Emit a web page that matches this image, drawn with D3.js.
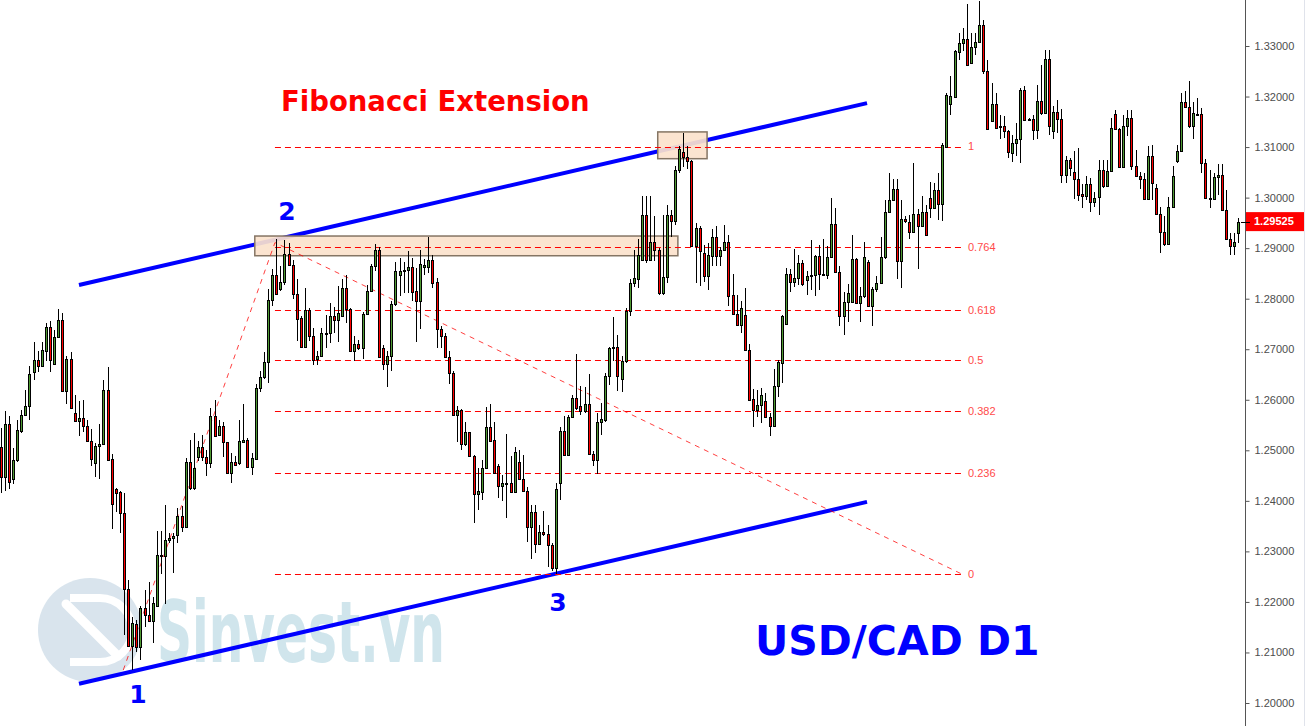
<!DOCTYPE html>
<html><head><meta charset="utf-8">
<script src="https://cdn.jsdelivr.net/npm/d3@7"></script>
<style>html,body{margin:0;padding:0;background:#fff;overflow:hidden}</style>
</head><body><svg id="chart" width="1306" height="726"></svg>
<script>
// ---- DATA (USD/CAD D1) ----
const open = [
1.2507,1.2447,1.2552,1.2443,1.2481,1.2539,1.2570,1.2587,1.2654,1.2679,
1.2666,1.2697,1.2744,1.2671,1.2724,1.2757,1.2618,1.2681,1.2574,1.2558,
1.2564,1.2549,1.2519,1.2475,1.2509,1.2513,1.2620,1.2483,1.2424,1.2418,
1.2376,1.2225,1.2113,1.2156,1.2110,1.2188,1.2174,1.2163,1.2192,1.2290,
1.2290,1.2323,1.2326,1.2333,1.2370,1.2348,1.2477,1.2425,1.2487,1.2506,
1.2487,1.2475,1.2567,1.2531,1.2548,1.2516,1.2455,1.2477,1.2475,1.2517,
1.2521,1.2467,1.2483,1.2623,1.2646,1.2674,1.2797,1.2847,1.2819,1.2833,
1.2889,1.2867,1.2810,1.2762,1.2704,1.2778,1.2727,1.2680,1.2687,1.2731,
1.2732,1.2765,1.2757,1.2765,1.2821,1.2780,1.2696,1.2710,1.2703,1.2770,
1.2816,1.2864,1.2897,1.2702,1.2671,1.2686,1.2789,1.2846,1.2855,1.2856,
1.2863,1.2816,1.2795,1.2863,1.2863,1.2877,1.2833,1.2740,1.2727,1.2684,
1.2653,1.2569,1.2579,1.2512,1.2536,1.2488,1.2413,1.2418,1.2465,1.2546,
1.2521,1.2469,1.2429,1.2435,1.2435,1.2417,1.2477,1.2443,1.2420,1.2348,
1.2378,1.2315,1.2338,1.2334,1.2313,1.2267,1.2435,1.2539,1.2491,1.2566,
1.2603,1.2588,1.2578,1.2592,1.2493,1.2481,1.2556,1.2559,1.2647,1.2702,
1.2705,1.2641,1.2676,1.2776,1.2831,1.2839,1.2877,1.2965,1.2877,1.2912,
1.2896,1.2811,1.2843,1.2965,1.2953,1.3055,1.3090,1.3080,1.3073,1.2904,
1.2940,1.2890,1.2844,1.2885,1.2922,1.2884,1.2897,1.2912,1.2808,1.2770,
1.2747,1.2768,1.2699,1.2601,1.2580,1.2589,1.2598,1.2566,1.2549,1.2627,
1.2673,1.2750,1.2849,1.2834,1.2841,1.2871,1.2836,1.2844,1.2846,1.2885,
1.2849,1.2846,1.2882,1.2948,1.2852,1.2766,1.2793,1.2793,1.2879,1.2791,
1.2805,1.2872,1.2785,1.2819,1.2831,1.2882,1.2972,1.2996,1.3017,1.2874,
1.2958,1.2951,1.2932,1.2968,1.2943,1.2972,1.2999,1.2979,1.3016,1.2988,
1.3101,1.3186,1.3200,1.3288,1.3306,1.3314,1.3267,1.3298,1.3308,1.3342,
1.3250,1.3151,1.3185,1.3141,1.3141,1.3131,1.3088,1.3108,1.3115,1.3212,
1.3156,1.3156,1.3133,1.3192,1.3168,1.3275,1.3131,1.3170,1.3155,1.3045,
1.3074,1.3050,1.3037,1.3008,1.3003,1.3026,1.2991,1.3002,1.3055,1.3022,
1.3053,1.3166,1.3135,1.3061,1.3141,1.3158,1.3062,1.3043,1.3036,1.2997,
1.3082,1.3019,1.2968,1.2932,1.2909,1.2981,1.3072,1.3092,1.3189,1.3179,
1.3141,1.3166,1.3165,1.3069,1.2999,1.2998,1.3040,1.3045,1.2976,1.2918,
1.2904,1.2929];
const high = [
1.2544,1.2578,1.2568,1.2505,1.2560,1.2579,1.2620,1.2666,1.2715,1.2696,
1.2715,1.2752,1.2755,1.2739,1.2780,1.2772,1.2686,1.2694,1.2610,1.2597,
1.2600,1.2560,1.2542,1.2514,1.2552,1.2640,1.2665,1.2493,1.2425,1.2420,
1.2416,1.2244,1.2171,1.2164,1.2191,1.2224,1.2240,1.2210,1.2341,1.2341,
1.2392,1.2336,1.2336,1.2386,1.2389,1.2485,1.2521,1.2534,1.2519,1.2531,
1.2501,1.2584,1.2600,1.2560,1.2557,1.2517,1.2494,1.2488,1.2560,1.2592,
1.2524,1.2494,1.2632,1.2656,1.2694,1.2819,1.2859,1.2918,1.2864,1.2917,
1.2911,1.2877,1.2838,1.2765,1.2821,1.2781,1.2742,1.2696,1.2742,1.2768,
1.2791,1.2784,1.2826,1.2838,1.2847,1.2781,1.2727,1.2719,1.2773,1.2828,
1.2869,1.2909,1.2903,1.2709,1.2696,1.2795,1.2872,1.2881,1.2872,1.2894,
1.2881,1.2861,1.2896,1.2878,1.2923,1.2887,1.2841,1.2745,1.2732,1.2696,
1.2656,1.2587,1.2582,1.2557,1.2536,1.2491,1.2465,1.2481,1.2585,1.2592,
1.2557,1.2473,1.2451,1.2532,1.2489,1.2507,1.2501,1.2491,1.2428,1.2392,
1.2392,1.2352,1.2379,1.2352,1.2316,1.2435,1.2546,1.2568,1.2570,1.2610,
1.2691,1.2628,1.2626,1.2651,1.2498,1.2574,1.2593,1.2653,1.2705,1.2764,
1.2729,1.2686,1.2781,1.2838,1.2897,1.2918,1.3004,1.3004,1.3004,1.2963,
1.2900,1.2966,1.2986,1.2976,1.3062,1.3102,1.3127,1.3103,1.3075,1.2950,
1.2943,1.2907,1.2910,1.2937,1.2943,1.2902,1.2946,1.2927,1.2849,1.2808,
1.2795,1.2821,1.2711,1.2621,1.2620,1.2623,1.2613,1.2574,1.2661,1.2679,
1.2768,1.2861,1.2859,1.2898,1.2887,1.2877,1.2854,1.2917,1.2887,1.2907,
1.2918,1.2905,1.2999,1.2979,1.2864,1.2813,1.2829,1.2927,1.2881,1.2824,
1.2913,1.2877,1.2823,1.2845,1.2923,1.2996,1.3049,1.3036,1.3036,1.2996,
1.2963,1.2966,1.3069,1.2978,1.3004,1.2986,1.3030,1.3029,1.3049,1.3108,
1.3207,1.3240,1.3293,1.3326,1.3336,1.3384,1.3326,1.3326,1.3389,1.3352,
1.3272,1.3227,1.3207,1.3164,1.3162,1.3134,1.3124,1.3148,1.3217,1.3220,
1.3157,1.3164,1.3222,1.3263,1.3293,1.3293,1.3182,1.3194,1.3175,1.3082,
1.3078,1.3092,1.3098,1.3026,1.3042,1.3039,1.3012,1.3075,1.3075,1.3075,
1.3158,1.3174,1.3138,1.3164,1.3174,1.3174,1.3095,1.3050,1.3049,1.3102,
1.3105,1.3026,1.2981,1.2963,1.3002,1.3062,1.3105,1.3207,1.3210,1.3230,
1.3190,1.3197,1.3177,1.3076,1.3055,1.3049,1.3067,1.3067,1.3016,1.2930,
1.2930,1.2960];
const low = [
1.2416,1.2420,1.2423,1.2434,1.2477,1.2535,1.2568,1.2560,1.2640,1.2654,
1.2665,1.2676,1.2654,1.2669,1.2722,1.2616,1.2592,1.2582,1.2557,1.2529,
1.2537,1.2517,1.2468,1.2447,1.2444,1.2511,1.2480,1.2344,1.2377,1.2337,
1.2135,1.2110,1.2065,1.2100,1.2085,1.2151,1.2161,1.2119,1.2191,1.2255,
1.2196,1.2316,1.2257,1.2316,1.2339,1.2346,1.2422,1.2422,1.2478,1.2478,
1.2449,1.2465,1.2527,1.2529,1.2487,1.2453,1.2435,1.2469,1.2471,1.2515,
1.2465,1.2451,1.2481,1.2616,1.2641,1.2634,1.2786,1.2808,1.2816,1.2828,
1.2864,1.2800,1.2717,1.2702,1.2702,1.2717,1.2669,1.2669,1.2684,1.2702,
1.2712,1.2732,1.2715,1.2764,1.2752,1.2694,1.2676,1.2699,1.2681,1.2768,
1.2814,1.2854,1.2682,1.2658,1.2626,1.2656,1.2786,1.2806,1.2812,1.2811,
1.2795,1.2715,1.2740,1.2847,1.2851,1.2821,1.2702,1.2702,1.2682,1.2632,
1.2568,1.2517,1.2501,1.2509,1.2487,1.2357,1.2381,1.2401,1.2463,1.2517,
1.2453,1.2405,1.2399,1.2366,1.2415,1.2415,1.2442,1.2418,1.2319,1.2285,
1.2296,1.2313,1.2331,1.2270,1.2262,1.2256,1.2402,1.2488,1.2489,1.2564,
1.2580,1.2570,1.2574,1.2491,1.2468,1.2453,1.2531,1.2557,1.2630,1.2676,
1.2618,1.2616,1.2673,1.2765,1.2823,1.2821,1.2874,1.2871,1.2874,1.2874,
1.2808,1.2808,1.2832,1.2923,1.2946,1.3049,1.3061,1.3057,1.2902,1.2832,
1.2826,1.2834,1.2817,1.2865,1.2865,1.2864,1.2896,1.2785,1.2768,1.2745,
1.2733,1.2696,1.2599,1.2547,1.2566,1.2555,1.2564,1.2529,1.2547,1.2606,
1.2633,1.2748,1.2814,1.2824,1.2828,1.2826,1.2808,1.2817,1.2806,1.2817,
1.2844,1.2838,1.2880,1.2851,1.2745,1.2729,1.2753,1.2791,1.2790,1.2753,
1.2802,1.2784,1.2745,1.2814,1.2830,1.2878,1.2970,1.2995,1.2838,1.2821,
1.2950,1.2918,1.2930,1.2859,1.2942,1.2925,1.2960,1.2977,1.2955,1.2953,
1.3100,1.3164,1.3199,1.3272,1.3290,1.3262,1.3265,1.3283,1.3306,1.3245,
1.3133,1.3149,1.3136,1.3115,1.3118,1.3078,1.3070,1.3082,1.3068,1.3153,
1.3152,1.3114,1.3115,1.3164,1.3166,1.3124,1.3115,1.3128,1.3029,1.3029,
1.3042,1.2997,1.2993,1.2979,1.2996,1.2971,1.2982,1.2966,1.3019,1.3021,
1.3052,1.3133,1.3059,1.3059,1.3122,1.3054,1.3041,1.3017,1.2996,1.2995,
1.2996,1.2966,1.2890,1.2905,1.2907,1.2979,1.3068,1.3090,1.3177,1.3137,
1.3115,1.3163,1.3049,1.2997,1.2979,1.2996,1.3006,1.2973,1.2917,1.2887,
1.2887,1.2911];
const close = [
1.2447,1.2552,1.2437,1.2481,1.2541,1.2570,1.2588,1.2651,1.2679,1.2666,
1.2698,1.2744,1.2679,1.2724,1.2757,1.2618,1.2681,1.2584,1.2558,1.2564,
1.2549,1.2519,1.2483,1.2509,1.2513,1.2620,1.2481,1.2393,1.2416,1.2376,
1.2225,1.2113,1.2158,1.2110,1.2188,1.2174,1.2163,1.2197,1.2292,1.2292,
1.2323,1.2327,1.2331,1.2370,1.2348,1.2477,1.2425,1.2465,1.2506,1.2487,
1.2475,1.2567,1.2529,1.2548,1.2516,1.2455,1.2477,1.2470,1.2519,1.2521,
1.2467,1.2485,1.2623,1.2646,1.2675,1.2798,1.2847,1.2809,1.2833,1.2889,
1.2866,1.2810,1.2760,1.2704,1.2778,1.2727,1.2679,1.2687,1.2732,1.2733,
1.2765,1.2757,1.2772,1.2821,1.2780,1.2696,1.2710,1.2703,1.2770,1.2816,
1.2864,1.2897,1.2684,1.2671,1.2687,1.2789,1.2855,1.2855,1.2857,1.2863,
1.2814,1.2795,1.2869,1.2867,1.2877,1.2832,1.2740,1.2727,1.2684,1.2653,
1.2569,1.2579,1.2512,1.2536,1.2488,1.2413,1.2420,1.2465,1.2546,1.2519,
1.2456,1.2430,1.2435,1.2435,1.2417,1.2496,1.2443,1.2420,1.2348,1.2378,
1.2315,1.2338,1.2334,1.2313,1.2267,1.2423,1.2539,1.2491,1.2566,1.2603,
1.2584,1.2578,1.2592,1.2493,1.2481,1.2556,1.2562,1.2647,1.2702,1.2705,
1.2647,1.2677,1.2776,1.2831,1.2840,1.2887,1.2965,1.2877,1.2912,1.2896,
1.2811,1.2843,1.2965,1.2953,1.3055,1.3096,1.3080,1.3072,1.2904,1.2940,
1.2894,1.2844,1.2887,1.2922,1.2884,1.2897,1.2912,1.2806,1.2770,1.2747,
1.2782,1.2698,1.2600,1.2580,1.2590,1.2610,1.2566,1.2549,1.2628,1.2674,
1.2766,1.2849,1.2834,1.2841,1.2871,1.2829,1.2845,1.2847,1.2885,1.2849,
1.2849,1.2882,1.2948,1.2852,1.2766,1.2793,1.2812,1.2879,1.2791,1.2806,
1.2882,1.2785,1.2820,1.2831,1.2882,1.2972,1.2996,1.3017,1.2874,1.2958,
1.2953,1.2932,1.2968,1.2943,1.2972,1.2927,1.2979,1.3016,1.2988,1.3105,
1.3204,1.3202,1.3290,1.3306,1.3314,1.3263,1.3298,1.3308,1.3342,1.3250,
1.3135,1.3185,1.3138,1.3140,1.3131,1.3090,1.3108,1.3115,1.3212,1.3154,
1.3153,1.3133,1.3192,1.3168,1.3275,1.3142,1.3170,1.3155,1.3045,1.3074,
1.3059,1.3036,1.3006,1.3003,1.3026,1.2991,1.3000,1.3055,1.3022,1.3053,
1.3138,1.3135,1.3061,1.3142,1.3158,1.3062,1.3042,1.3036,1.2997,1.3082,
1.3028,1.2968,1.2932,1.2909,1.2981,1.3043,1.3092,1.3189,1.3179,1.3141,
1.3167,1.3165,1.3069,1.2999,1.3000,1.3041,1.3045,1.2975,1.2918,1.2904,
1.2913,1.29525];

const yTicks = [1.20,1.21,1.22,1.23,1.24,1.25,1.26,1.27,1.28,1.29,1.30,1.31,1.32,1.33];
const lastPrice = 1.29525;
const fibRatios = [0, 0.236, 0.382, 0.5, 0.618, 0.764, 1];
const fibLabels = ["0", "0.236", "0.382", "0.5", "0.618", "0.764", "1"];
// trend-based extension anchor points: bar index, price
const fibPoints = [{i: 29.8, p: 1.2065}, {i: 66.7, p: 1.2911}, {i: 233.8, p: 1.2255}];
const channelUpper = [{i: 19.04, p: 1.2827}, {i: 210.7, p: 1.3187}];
const channelLower = [{i: 19.04, p: 1.2038}, {i: 210.7, p: 1.2398}];
const zones = [{i0: 61.8, i1: 164.7, p0: 1.2924, p1: 1.2885},
               {i0: 159.8, i1: 171.8, p0: 1.3130, p1: 1.3077}];

// ---- CHART ----
const svg = d3.select("#chart");
const x = d3.scaleLinear().domain([0, open.length - 1]).range([0.7, 1238.3]);
const y = d3.scaleLinear().domain([1.20, 1.33]).range([703, 46]);

// watermark
const wm = svg.append("g").attr("opacity", 0.9);
wm.append("circle").attr("cx", 90).attr("cy", 630).attr("r", 52).attr("fill", "#d5e2ec");
wm.append("path").attr("d", "M66,604 L118,656").attr("stroke", "#fff").attr("stroke-width", 9).attr("stroke-linecap","round");
wm.append("path").attr("d", "M70,598 L100,598 A32,32 0 0 1 100,662 L70,662").attr("fill", "none").attr("stroke", "#fff").attr("stroke-width", 8);
wm.append("text").attr("x", 157).attr("y", 662).text("Sinvest.vn")
  .attr("font-family", "DejaVu Sans Condensed, DejaVu Sans").attr("font-weight", "bold")
  .attr("font-size", 86).attr("textLength", 288).attr("lengthAdjust", "spacingAndGlyphs")
  .attr("fill", "#cbe3eb");

// channel lines
const line = d3.line().x(d => x(d.i)).y(d => y(d.p));
[channelUpper, channelLower].forEach(c => {
  svg.append("path").attr("d", line(c)).attr("fill", "none")
    .attr("stroke", "#0000ff").attr("stroke-width", 4);
});

// zones (drawn over the channel line, under levels and candles)
svg.append("g").selectAll("rect").data(zones).join("rect")
  .attr("x", d => x(d.i0)).attr("width", d => x(d.i1) - x(d.i0))
  .attr("y", d => y(d.p0)).attr("height", d => y(d.p1) - y(d.p0))
  .attr("fill", "#fbe2cc").attr("fill-opacity", 0.92).attr("stroke", "#857564").attr("stroke-width", 1.5);

// fib levels
const [f1, f2, f3] = fibPoints;
const fibG = svg.append("g");
fibRatios.forEach((r, k) => {
  const p = f3.p + r * (f2.p - f1.p);
  fibG.append("line").attr("x1", x(f2.i)).attr("x2", x(f3.i))
    .attr("y1", Math.round(y(p)) + 0.5).attr("y2", Math.round(y(p)) + 0.5)
    .attr("stroke", "#ff0000").attr("stroke-width", 1).attr("stroke-dasharray", "6,4");
  fibG.append("text").attr("x", x(f3.i) + 6).attr("y", y(p)).attr("dy", "0.35em")
    .attr("font-family", "Liberation Sans, Arial").attr("font-size", 11)
    .attr("fill", "#ff4a4a").text(fibLabels[k]);
});
fibG.append("path").attr("d", line(fibPoints)).attr("fill", "none")
  .attr("stroke", "#ff0000").attr("stroke-opacity", 0.75).attr("stroke-width", 1).attr("stroke-dasharray", "5,5");

// candles
const cg = svg.append("g").attr("shape-rendering", "crispEdges");
open.forEach((o, i) => {
  const c = close[i], h = high[i], l = low[i];
  const cx = Math.round(x(i));
  const up = c >= o;
  const yh = Math.round(y(h)), yl = Math.round(y(l));
  cg.append("rect").attr("x", cx).attr("y", yh).attr("width", 1).attr("height", Math.max(1, yl - yh)).attr("fill", "#000");
  const bt = Math.round(y(Math.max(o, c))), bb = Math.max(Math.round(y(Math.min(o, c))), bt + 1);
  cg.append("rect").attr("x", cx - 1).attr("y", bt).attr("width", 3).attr("height", bb - bt + 1).attr("fill", "#000");
  if (bb - bt > 1) cg.append("rect").attr("x", cx).attr("y", bt + 1).attr("width", 1).attr("height", bb - bt - 1)
    .attr("fill", up ? "#4f9a33" : "#ff0000");
});

// axis
const axis = d3.axisRight(y).tickValues(yTicks).tickFormat(d3.format(".5f")).tickSize(4).tickPadding(5);
const ag = svg.append("g").attr("transform", "translate(1245.5,0)").call(axis);
ag.select(".domain").remove();
ag.selectAll("line").attr("stroke", "#555");
ag.selectAll("text").attr("font-family", "Liberation Sans, Arial").attr("font-size", 11).attr("fill", "#4d4d4d");
svg.append("line").attr("x1", 1245.5).attr("x2", 1245.5).attr("y1", 0).attr("y2", 726).attr("stroke", "#555");
svg.append("line").attr("x1", 1304.5).attr("x2", 1304.5).attr("y1", 0).attr("y2", 726).attr("stroke", "#e0e3eb");
const ly = y(lastPrice);
svg.append("rect").attr("x", 1246).attr("y", ly - 9.5).attr("width", 58).attr("height", 19).attr("fill", "#ff0000");
svg.append("line").attr("x1", 1241).attr("x2", 1250).attr("y1", Math.round(ly) + 0.5).attr("y2", Math.round(ly) + 0.5).attr("stroke", "#000");
svg.append("text").attr("x", 1254).attr("y", ly).attr("dy", "0.35em").text(d3.format(".5f")(lastPrice))
  .attr("font-family", "Liberation Sans, Arial").attr("font-size", 11).attr("font-weight", "bold").attr("fill", "#fff");

// annotations
const ann = svg.append("g").attr("font-family", "DejaVu Sans, Verdana").attr("font-weight", "bold");
ann.append("text").attr("x", 281).attr("y", 111).attr("font-size", 27.5).attr("fill", "#ff0000").text("Fibonacci Extension");
ann.append("text").attr("x", 755).attr("y", 655).attr("font-size", 41).attr("fill", "#0000ff").text("USD/CAD D1");
[["1", 138, 703], ["2", 287, 220], ["3", 558, 611]].forEach(([t, tx, ty]) => {
  ann.append("text").attr("x", tx).attr("y", ty).attr("text-anchor", "middle").attr("font-size", 25).attr("fill", "#0000ff").text(t);
});
</script></body></html>
